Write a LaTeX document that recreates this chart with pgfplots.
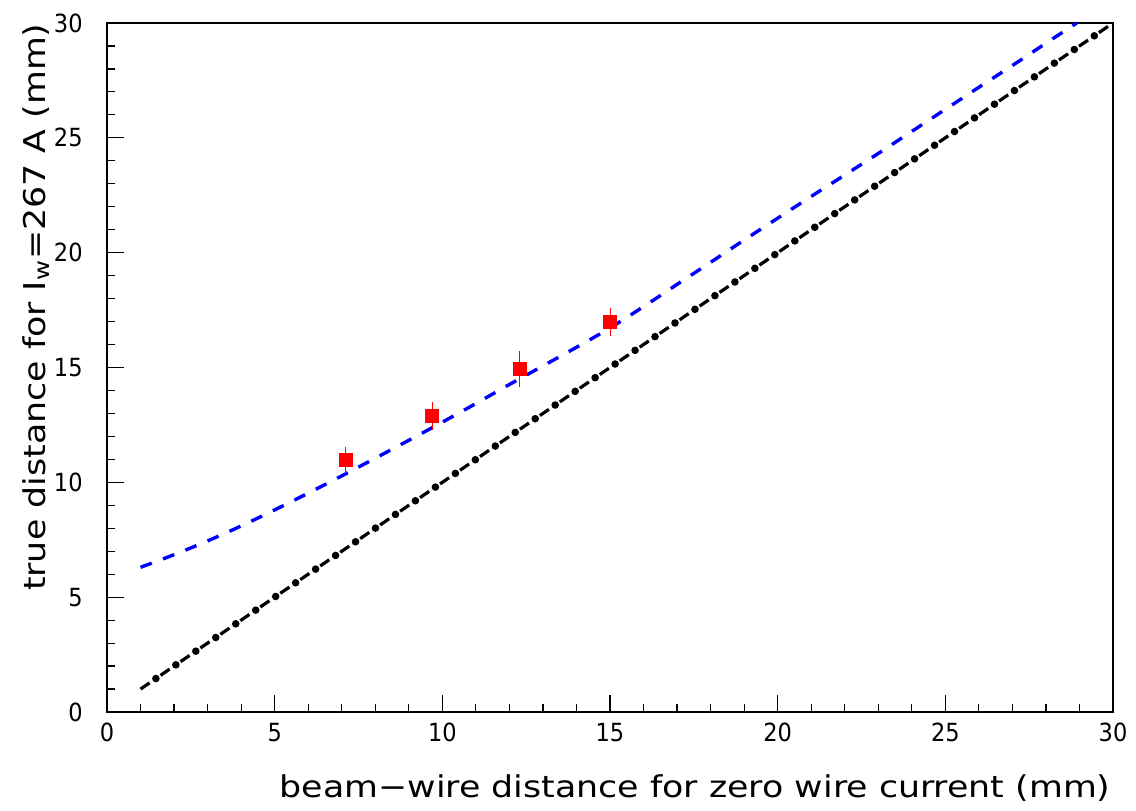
\documentclass[border=0pt]{standalone}
\usepackage{fontspec}
\setmainfont{DejaVu Sans}
\newfontfamily\labelfont{DejaVu Sans}[FakeStretch=1.16]
\newfontfamily\tickfont{DejaVu Sans}[FakeStretch=0.9]
\usepackage{pgfplots}
\pgfplotsset{compat=1.18}
\begin{document}
\begin{tikzpicture}
\begin{axis}[
    scale only axis,
    width=503pt, height=344.5pt,
    xmin=0, xmax=30, ymin=0, ymax=30,
    xtick={0,5,...,30}, ytick={0,5,...,30},
    minor tick num=4,
    tick pos=left, tick align=inside,
    major tick length=8.5pt, minor tick length=4pt,
    tick style={black, line width=0.6pt},
    axis line style={line width=0.7pt},
    /pgf/number format/assume math mode=true,
    ticklabel style={font=\tickfont\fontsize{12.5}{15}\selectfont, inner sep=0pt},
    xticklabel style={yshift=-5.5pt},
    yticklabel style={xshift=-12pt},
    label style={font=\labelfont\fontsize{15}{18}\selectfont, inner sep=0pt},
    xlabel={beam−wire distance for zero wire current (mm)},
    xlabel style={at={(rel axis cs:0.998,-0.1234)}, anchor=base east},
    ylabel={true distance for I\textsubscript{w}=267 A (mm)},
    ylabel style={at={(rel axis cs:-0.0616,1)}, anchor=base east},
    clip=false,
]
% fit curve (blue dashed)
\addplot[color=blue, line width=1.7pt, dash pattern=on 6pt off 6pt, smooth] coordinates {
    (1,6.30) (2,6.85) (3,7.45) (4,8.10) (5,8.80) (6,9.53) (7,10.28)
    (8,11.05) (9,11.83) (10,12.62) (11,13.43) (12,14.26) (13,15.07)
    (14,15.88) (15,16.72) (16,17.65) (17,18.62) (18,19.58) (19,20.55)
    (20,21.50) (21,22.45) (22,23.38) (23,24.32) (24,25.28) (25,26.24)
    (26,27.20) (27,28.15) (28,29.12) (28.92,30.00)
};
% y = x reference, dash-dot
\addplot[color=black, line width=1.6pt, dash pattern=on 5.5pt off 6.6pt] coordinates {
    (1,1) (30,30)
};
\addplot[color=black, line width=3.8pt, line cap=round, dash pattern=on 0pt off 12.1pt, dash phase=2.8pt] coordinates {
    (1,1) (30,30)
};
% measurements
\addplot[color=red, only marks, mark=square*, mark size=3.25pt,
    error bars/.cd, y dir=both, y explicit, error mark=none,
    error bar style={red, line width=0.5pt}] coordinates {
    (7.12,10.97) +- (0,0.58)
    (9.70,12.90) +- (0,0.60)
    (12.31,14.92) +- (0,0.78)
    (15.00,16.99) +- (0,0.60)
};
\end{axis}
\pgfresetboundingbox
\path[use as bounding box] (current axis.south west) ++(-53.5pt,-49pt) rectangle ++(568pt,405pt);
\end{tikzpicture}
\end{document}
